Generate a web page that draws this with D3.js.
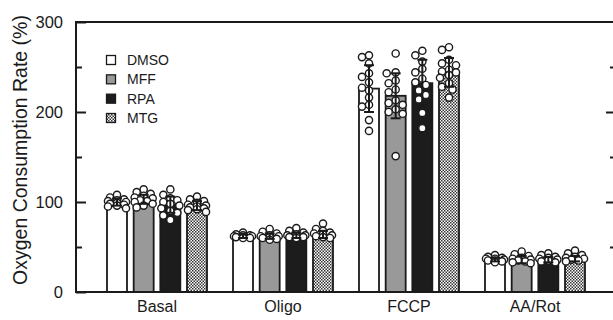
<!DOCTYPE html>
<html><head><meta charset="utf-8">
<script src="https://cdn.jsdelivr.net/npm/d3@7"></script>
<style>body{margin:0;background:#fff}svg{display:block}</style>
</head><body>
<script>
// ---- data ----
const categories = ["Basal", "Oligo", "FCCP", "AA/Rot"];
const series = ["DMSO", "MFF", "RPA", "MTG"];
const yMajorTicks = [0, 100, 200, 300];
const yMinorTicks = [50, 150, 250];

// bar means per series (Basal, Oligo, FCCP, AA/Rot)
const meanDMSO = [100, 62, 226, 36];
const meanMFF  = [103, 62, 218, 36];
const meanRPA  = [97, 63, 232, 36];
const meanMTG  = [96, 64, 244, 37];
// error (SD) per series
const errDMSO = [4, 2, 26, 2];
const errMFF  = [5, 3, 25, 4];
const errRPA  = [9, 3, 26, 3];
const errMTG  = [5, 4, 16, 3];
// individual points per series
const ptsDMSO = [
  [108, 105, 103, 101, 100, 99, 98, 97, 96, 95, 102, 93],
  [66, 64, 63, 62, 62, 61, 61, 60, 63, 60],
  [263, 261, 254, 243, 239, 233, 227, 224, 216, 208, 206, 191, 179],
  [41, 39, 38, 37, 36, 35, 35, 34, 33, 37]
];
const ptsMFF = [
  [114, 111, 109, 107, 105, 104, 102, 101, 100, 98, 96, 94],
  [70, 67, 65, 63, 62, 61, 60, 59, 58, 62],
  [265, 244, 243, 235, 232, 225, 222, 213, 210, 208, 203, 200, 198, 151],
  [45, 42, 40, 38, 37, 36, 35, 34, 33, 32]
];
const ptsRPA = [
  [114, 108, 104, 102, 100, 98, 96, 93, 90, 88, 85, 80],
  [71, 68, 66, 64, 63, 62, 61, 61, 60, 63],
  [268, 263, 256, 248, 244, 237, 233, 230, 224, 219, 214, 199, 182],
  [43, 41, 39, 38, 37, 36, 35, 34, 33]
];
const ptsMTG = [
  [106, 103, 101, 99, 97, 96, 95, 94, 93, 92, 91, 89],
  [76, 70, 68, 66, 65, 64, 63, 62, 61, 60],
  [272, 269, 258, 254, 252, 247, 245, 244, 241, 238, 232, 228, 225, 216],
  [46, 43, 41, 39, 38, 37, 36, 35, 34]
];

const means = [meanDMSO, meanMFF, meanRPA, meanMTG];
const errs = [errDMSO, errMFF, errRPA, errMTG];
const pts = [ptsDMSO, ptsMFF, ptsRPA, ptsMTG];

// ---- layout ----
const W = 613, H = 320;
const pLeft = 76, pRight = 616, pTop = 22, pBottom = 292;
const font = "'Liberation Sans', Arial, Helvetica, sans-serif";
const ink = "#1a1a1a";

const svg = d3.select("body").append("svg").attr("width", W).attr("height", H);
const defs = svg.append("defs");
const pat = defs.append("pattern").attr("id", "chk").attr("patternUnits", "userSpaceOnUse")
  .attr("width", 3).attr("height", 3);
pat.append("rect").attr("width", 3).attr("height", 3).attr("fill", "#fff");
pat.append("rect").attr("x", 0).attr("y", 0).attr("width", 1.5).attr("height", 1.5).attr("fill", "#333");
pat.append("rect").attr("x", 1.5).attr("y", 1.5).attr("width", 1.5).attr("height", 1.5).attr("fill", "#333");

const fills = {DMSO: "#ffffff", MFF: "#999999", RPA: "#1c1c1c", MTG: "url(#chk)"};

const y = d3.scaleLinear().domain([0, 300]).range([pBottom, pTop]);
const x0 = d3.scaleBand().domain(categories).range([94, 598]);
const x1 = d3.scaleBand().domain(series)
  .range([x0.bandwidth() / 2 - 50, x0.bandwidth() / 2 + 50]).paddingInner(0.25);

// bars
const gBars = svg.append("g");
series.forEach((s, si) => {
  categories.forEach((c, ci) => {
    const v = means[si][ci];
    gBars.append("rect")
      .attr("x", x0(c) + x1(s)).attr("width", x1.bandwidth())
      .attr("y", y(v)).attr("height", y(0) - y(v))
      .attr("fill", fills[s]).attr("stroke", ink).attr("stroke-width", 1.8);
  });
});

// dots (simple beeswarm within bar)
const r = 3.6;
const gDots = svg.append("g");
series.forEach((s, si) => {
  categories.forEach((c, ci) => {
    const cx = x0(c) + x1(s) + x1.bandwidth() / 2;
    const vals = pts[si][ci].slice().sort((a, b) => b - a);
    const placed = [];
    const cands = [0, -3.5, 3.5, -7, 7, -9, 9];
    vals.forEach(v => {
      const py = y(v);
      let best = 0, bestScore = Infinity;
      for (const dx of cands) {
        let overlap = 0;
        for (const p of placed) {
          const d = Math.hypot(p.dx - dx, p.py - py);
          if (d < 2 * r) overlap += (2 * r - d);
        }
        const score = overlap * 10 + Math.abs(dx) * 0.05;
        if (score < bestScore) { bestScore = score; best = dx; }
      }
      placed.push({dx: best, py});
    });
    gDots.selectAll(null).data(placed).enter().append("circle")
      .attr("cx", d => cx + d.dx).attr("cy", d => d.py).attr("r", r)
      .attr("fill", "#fff").attr("stroke", ink).attr("stroke-width", 1.4);
  });
});

// error bars
const gErr = svg.append("g").attr("stroke", ink).attr("stroke-width", 2);
series.forEach((s, si) => {
  categories.forEach((c, ci) => {
    const cx = x0(c) + x1(s) + x1.bandwidth() / 2;
    const m = means[si][ci], e = errs[si][ci];
    gErr.append("line").attr("x1", cx).attr("x2", cx).attr("y1", y(m - e)).attr("y2", y(m + e));
    [m - e, m + e].forEach(v => gErr.append("line")
      .attr("x1", cx - 5).attr("x2", cx + 5).attr("y1", y(v)).attr("y2", y(v)));
  });
});

// axes
const axL = svg.append("g").attr("transform", `translate(${pLeft},0)`)
  .call(d3.axisLeft(y).tickValues(yMajorTicks).tickSizeInner(-10).tickSizeOuter(0).tickPadding(13));
axL.select(".domain").remove();
axL.selectAll("line").attr("stroke", ink).attr("stroke-width", 2);
axL.selectAll("text").attr("font-family", font).attr("font-size", 16.5).attr("fill", ink);
const axLm = svg.append("g").attr("transform", `translate(${pLeft},0)`)
  .call(d3.axisLeft(y).tickValues(yMinorTicks).tickSizeInner(-6).tickSizeOuter(0).tickFormat(""));
axLm.select(".domain").remove();
axLm.selectAll("line").attr("stroke", ink).attr("stroke-width", 2);

const axR = svg.append("g").attr("transform", `translate(${pRight},0)`)
  .call(d3.axisRight(y).tickValues(yMajorTicks.slice(1, 3)).tickSizeInner(-10).tickSizeOuter(0).tickFormat(""));
axR.select(".domain").remove();
axR.selectAll("line").attr("stroke", ink).attr("stroke-width", 2);
const axRm = svg.append("g").attr("transform", `translate(${pRight},0)`)
  .call(d3.axisRight(y).tickValues(yMinorTicks).tickSizeInner(-6).tickSizeOuter(0).tickFormat(""));
axRm.select(".domain").remove();
axRm.selectAll("line").attr("stroke", ink).attr("stroke-width", 2);

// frame
const frame = svg.append("g").attr("stroke", ink).attr("stroke-width", 2).attr("fill", "none");
frame.append("line").attr("x1", pLeft).attr("x2", pRight).attr("y1", pBottom).attr("y2", pBottom);
frame.append("line").attr("x1", pLeft).attr("x2", pRight).attr("y1", pTop).attr("y2", pTop);
frame.append("line").attr("x1", pLeft).attr("x2", pLeft).attr("y1", pTop - 1).attr("y2", pBottom + 1);
frame.append("line").attr("x1", pRight).attr("x2", pRight).attr("y1", pTop - 1).attr("y2", pBottom + 1);

// x category labels
const axB = svg.append("g").attr("transform", `translate(0,${pBottom})`)
  .call(d3.axisBottom(x0).tickSize(0).tickPadding(9));
axB.select(".domain").remove();
axB.selectAll("text").attr("font-family", font).attr("font-size", 16).attr("fill", ink);

// y title
svg.append("text").attr("transform", `translate(27,150) rotate(-90)`)
  .attr("text-anchor", "middle").attr("font-family", font).attr("font-size", 19.5)
  .attr("fill", ink).text("Oxygen Consumption Rate (%)");

// legend
const legY = d3.scalePoint().domain(series).range([60, 118]);
const leg = svg.append("g");
series.forEach(s => {
  leg.append("rect").attr("x", 106.5).attr("y", legY(s) - 4.5).attr("width", 9).attr("height", 9)
    .attr("fill", fills[s]).attr("stroke", ink).attr("stroke-width", 1.3);
  leg.append("text").attr("x", 127).attr("y", legY(s)).attr("dy", "0.36em")
    .attr("font-family", font).attr("font-size", 14).attr("fill", ink).text(s);
});
</script>
</body></html>
